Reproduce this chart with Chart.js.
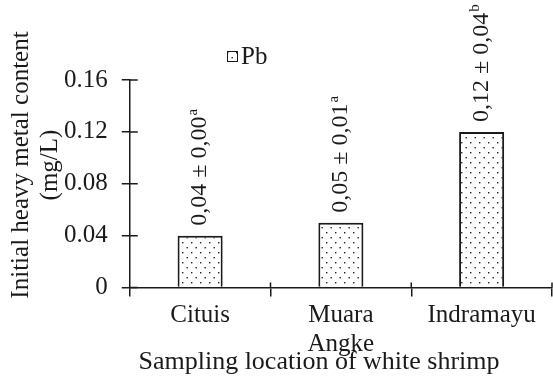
<!DOCTYPE html>
<html>
<head>
<meta charset="utf-8">
<script src="https://cdn.jsdelivr.net/npm/chart.js@4/dist/chart.umd.min.js"></script>
<style>
  body { margin: 0; background: #fff; }
</style>
</head>
<body>
<canvas id="chart" width="553" height="378"></canvas>
<script>
// data
const locations = [['Cituis'], ['Muara', 'Angke'], ['Indramayu']];
const pbValues = [0.04, 0.05, 0.12];
const pbLabels = ['0,04 ± 0,00', '0,05 ± 0,01', '0,12 ± 0,04'];
const pbLetters = ['a', 'a', 'b'];
const yTickLabels = ['0', '0.04', '0.08', '0.12', '0.16'];
const seriesName = 'Pb';
const yTitle = ['Initial heavy metal content', '(mg/L)'];
const xTitle = 'Sampling location of white shrimp';

const INK = '#1a1a1a';
const FONT = '"Liberation Serif", "Times New Roman", serif';

// dotted fill for the bars
function makeDots() {
    const c = document.createElement('canvas');
    c.width = 9;
    c.height = 10;
    const g = c.getContext('2d');
    g.fillStyle = '#fff';
    g.fillRect(0, 0, 9, 10);
    g.fillStyle = '#222';
    g.fillRect(2, 2, 1.4, 1.4);
    g.fillRect(6.5, 7, 1.4, 1.4);
    return g.createPattern(c, 'repeat');
}
const ctx = document.getElementById('chart').getContext('2d');
const dots = makeDots();

// ticks that cross the axes, titles, legend and bar labels
const extrasPlugin = {
    id: 'extras',
    afterDraw(chart) {
        const { ctx, chartArea: { left, bottom }, scales: { x, y } } = chart;
        ctx.save();
        ctx.strokeStyle = INK;
        ctx.lineWidth = 1.5;
        ctx.beginPath();
        y.ticks.forEach((t, i) => {
            const py = y.getPixelForTick(i);
            ctx.moveTo(left, py);
            ctx.lineTo(left + 8, py);
        });
        for (let i = 1; i <= locations.length; i++) {
            const px = x.getPixelForValue(i - 0.5);
            ctx.moveTo(px, bottom);
            ctx.lineTo(px, bottom - 5);
        }
        ctx.stroke();

        // bar labels, rotated
        const meta = chart.getDatasetMeta(0);
        meta.data.forEach((bar, i) => {
            ctx.save();
            ctx.translate(bar.x, bar.y - 10);
            ctx.rotate(-Math.PI / 2);
            ctx.fillStyle = INK;
            ctx.textAlign = 'left';
            ctx.textBaseline = 'middle';
            ctx.font = '24px ' + FONT;
            ctx.fillText(pbLabels[i], 0, 0);
            const w = ctx.measureText(pbLabels[i]).width;
            ctx.font = '15px ' + FONT;
            ctx.fillText(pbLetters[i], w + 1, -7);
            ctx.restore();
        });

        // y title
        ctx.fillStyle = INK;
        ctx.font = '25px ' + FONT;
        ctx.textAlign = 'center';
        ctx.textBaseline = 'middle';
        yTitle.forEach((line, i) => {
            ctx.save();
            ctx.translate(21 + i * 29, 165);
            ctx.rotate(-Math.PI / 2);
            ctx.fillText(line, 0, 0);
            ctx.restore();
        });

        // x title
        ctx.font = '26px ' + FONT;
        ctx.fillText(xTitle, 319, 362);

        // legend
        ctx.fillStyle = dots;
        ctx.fillRect(227, 51, 11, 11);
        ctx.lineWidth = 1;
        ctx.strokeRect(227.5, 51.5, 10, 10);
        ctx.fillStyle = INK;
        ctx.font = '25px ' + FONT;
        ctx.textAlign = 'left';
        ctx.fillText(seriesName, 241, 57);

        ctx.restore();
    }
};

new Chart(ctx, {
    type: 'bar',
    data: {
        labels: locations,
        datasets: [{
            label: seriesName,
            data: pbValues,
            backgroundColor: dots,
            borderColor: INK,
            borderWidth: 2,
            categoryPercentage: 1,
            barPercentage: 0.32
        }]
    },
    plugins: [extrasPlugin],
    options: {
        responsive: false,
        animation: false,
        layout: {
            padding: { top: 80, left: 50, right: 1, bottom: 14 }
        },
        plugins: {
            legend: { display: false },
            tooltip: { enabled: false }
        },
        scales: {
            x: {
                grid: {
                    display: true,
                    drawOnChartArea: false,
                    tickLength: 9,
                    color: INK,
                    lineWidth: 1.5
                },
                border: { display: true, color: INK, width: 1.5 },
                ticks: {
                    padding: 5,
                    color: INK,
                    font: { family: FONT, size: 25, lineHeight: 1.15 }
                }
            },
            y: {
                min: 0,
                max: 0.16,
                grid: {
                    display: true,
                    drawOnChartArea: false,
                    tickLength: 8,
                    color: INK,
                    lineWidth: 1.5
                },
                border: { display: true, color: INK, width: 1.5 },
                ticks: {
                    stepSize: 0.04,
                    padding: 14,
                    color: INK,
                    font: { family: FONT, size: 25 },
                    callback: (v, i) => yTickLabels[i]
                }
            }
        }
    }
});
</script>
</body>
</html>
